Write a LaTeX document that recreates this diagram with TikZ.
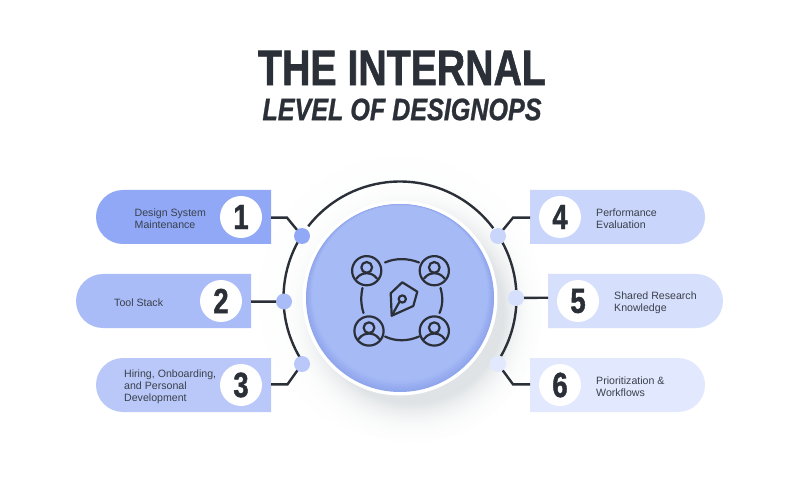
\documentclass[tikz,border=0pt]{standalone}
\usepackage{fontspec}
\setmainfont{Liberation Sans}
\newfontfamily\titlefont[FakeStretch=0.785,BoldFeatures={FakeBold=1.2,FakeStretch=0.785},BoldItalicFeatures={FakeBold=0.8,FakeStretch=0.785}]{Liberation Sans}
\newfontfamily\subtitlefont[BoldItalicFeatures={FakeBold=0.8,FakeStretch=0.81}]{Liberation Sans}
\usetikzlibrary{calc}
\definecolor{ink}{HTML}{2B3038}
\definecolor{txt}{HTML}{3A404A}
\definecolor{cA}{HTML}{90A8F6}
\definecolor{cB}{HTML}{AABCF7}
\definecolor{cC}{HTML}{B9C8F9}
\definecolor{cD}{HTML}{C9D5FA}
\definecolor{cE}{HTML}{D6DFFC}
\definecolor{cF}{HTML}{E2E8FD}
\definecolor{disc}{HTML}{A6BAF6}
\definecolor{rim}{HTML}{8FA5EC}
\definecolor{shade}{HTML}{7F8C95}
\tikzset{
  x=1pt,y=1pt,
  pillbox/.style={minimum width=175pt,minimum height=54pt,inner sep=0pt,outer sep=0pt},
  badge/.style={circle,fill=white,minimum size=42pt,inner sep=0pt,text=ink,font=\titlefont\fontsize{35}{35}\selectfont\bfseries},
  dot/.style={circle,minimum size=16pt,inner sep=0pt,outer sep=0pt},
  label/.style={anchor=west,align=left,text=txt,inner sep=0pt,font=\fontsize{10.6}{12}\selectfont},
  conn/.style={draw=ink,line width=2.4pt},
  ringline/.style={draw=ink,line width=2.4pt},
  iconline/.style={draw=ink,line width=2.2pt,line cap=round,line join=round},
}
\newcommand{\lpill}[3]{\fill[#3] (#1.north east) -- (#1.south east) -- ++(-148,0) arc[start angle=270,end angle=90,radius=27] -- cycle;}
\newcommand{\rpill}[3]{\fill[#3] (#1.north west) -- (#1.south west) -- ++(148,0) arc[start angle=-90,end angle=90,radius=27] -- cycle;}
\newcommand{\person}[2]{%
  \draw[iconline] (#1,#2) circle[radius=14.6];
  \draw[iconline] (#1,#2+3.3) circle[radius=5.4];
  \draw[iconline] (#1-10.4,#2-8) .. controls (#1-7,#2-3.4) and (#1-3,#2-2.6) .. (#1,#2-2.6) .. controls (#1+3,#2-2.6) and (#1+7,#2-3.4) .. (#1+10.4,#2-8);
}
\begin{document}
\begin{tikzpicture}
\useasboundingbox (0,0) rectangle (800,-494);
\fill[white] (0,0) rectangle (800,-494);
% halo and shadow
\fill[shade!0.8] (400,-298) circle[radius=141];
\fill[shade!1.2] (400,-298) circle[radius=128];
\foreach \r [evaluate=\r as \k using {1.2+26*(1-(\r-90)/40)*(1-(\r-90)/40)}] in {130,128,...,92}{\fill[shade!\k] (412,-312) circle[radius=\r];}
% ring
\coordinate (c) at (400,-298);
\draw[ringline] ($(c)+(36.8:116.5)$) arc[start angle=36.8,end angle=142,radius=116.5];
\draw[ringline] ($(c)+(151.4:116.5)$) arc[start angle=151.4,end angle=210.8,radius=116.5];
\draw[ringline] ($(c)+(28.3:116.5)$) arc[start angle=28.3,end angle=-29.9,radius=116.5];
% disc
\fill[white] (400,-298) circle[radius=97.5];
\fill[rim] (c) circle[radius=94];
\foreach \r/\o in {93.5/15,92.5/30,91.5/45,90.5/60,89.5/75,88.5/90}{\fill[disc!\o!rim] (400,{-298+(94-\r)*0.75}) circle[radius=\r];}
\fill[disc] (400,-293) circle[radius=87.5];
% icon
\person{366.7}{-270.7}
\person{434.3}{-270.7}
\person{369}{-331}
\person{434.3}{-331}
\draw[iconline] (385,-262.5) .. controls (395,-258) and (408,-258) .. (419,-262.5);
\draw[iconline] (385,-336.5) .. controls (395,-341.5) and (408,-341.5) .. (419,-336.5);
\draw[iconline] (362.5,-288) .. controls (360.5,-297) and (361,-305) .. (363.5,-313);
\draw[iconline] (440.5,-288) .. controls (443,-297) and (443,-305) .. (439.5,-313);
\draw[iconline] (402.3,-282.3) -- (417.3,-291.7) -- (413.3,-306) -- (391.7,-315.7) -- (390.7,-293.3) -- cycle;
\draw[iconline] (402.3,-299) circle[radius=3.6];
\draw[iconline] (391.7,-315.7) -- (399.6,-301.6);
% title
\node[text=ink,inner sep=0pt,font=\titlefont\fontsize{50}{50}\selectfont\bfseries] (t1) at (402,-68) {THE INTERNAL};
\node[text=ink,inner sep=0pt,font=\subtitlefont\fontsize{31}{31}\selectfont\bfseries\itshape] (t2) at (402,-109.5) {LEVEL OF DESIGNOPS};
% pills
\node[pillbox] (p1) at (183.5,-217) {};
\node[pillbox] (p2) at (163.5,-301) {};
\node[pillbox] (p3) at (183.5,-385) {};
\node[pillbox] (p4) at (617.5,-217) {};
\node[pillbox] (p5) at (635.5,-301) {};
\node[pillbox] (p6) at (617.5,-385) {};
\lpill{p1}{}{cA}
\lpill{p2}{}{cB}
\lpill{p3}{}{cC}
\rpill{p4}{}{cD}
\rpill{p5}{}{cE}
\rpill{p6}{}{cF}
% dots
\node[dot] (d1) at (302,-236) {};
\node[dot] (d2) at (284,-301.5) {};
\node[dot] (d3) at (302,-364) {};
\node[dot] (d4) at (498,-236) {};
\node[dot] (d5) at (516,-298) {};
\node[dot] (d6) at (498,-364) {};
% connectors
\draw[conn] (p1.east |- 0,-217.7) -- (287,-217.7) -- (d1.center);
\draw[conn] (p2.east |- 0,-301.7) -- (d2.center);
\draw[conn] (p3.east |- 0,-384.3) -- (287.5,-384.3) -- (d3.center);
\draw[conn] (p4.west |- 0,-217.7) -- (513,-217.7) -- (d4.center);
\draw[conn] (p5.west |- 0,-297.7) -- (d5.center);
\draw[conn] (p6.west |- 0,-384.3) -- (513,-384.3) -- (d6.center);
\fill[cA] (d1) circle[radius=8];
\fill[cB] (d2) circle[radius=8];
\fill[cC] (d3) circle[radius=8];
\fill[cD] (d4) circle[radius=8];
\fill[cE] (d5) circle[radius=8];
\fill[cF] (d6) circle[radius=8];
% badges
\node[badge] (b1) at (241,-217) {1};
\node[badge] (b2) at (221,-301) {2};
\node[badge] (b3) at (241,-385) {3};
\node[badge] (b4) at (560,-217) {4};
\node[badge] (b5) at (578,-301) {5};
\node[badge] (b6) at (560,-385) {6};
% labels
\node[label] (l1) at (134.5,-219) {Design System\\Maintenance};
\node[label] (l2) at (114,-302.5) {Tool Stack};
\node[label] (l3) at (124,-387) {Hiring, Onboarding,\\and Personal\\Development};
\node[label] (l4) at (596,-219) {Performance\\Evaluation};
\node[label] (l5) at (614,-303) {Shared Research\\Knowledge};
\node[label] (l6) at (596,-387) {Prioritization \&\\Workflows};
\end{tikzpicture}
\end{document}
